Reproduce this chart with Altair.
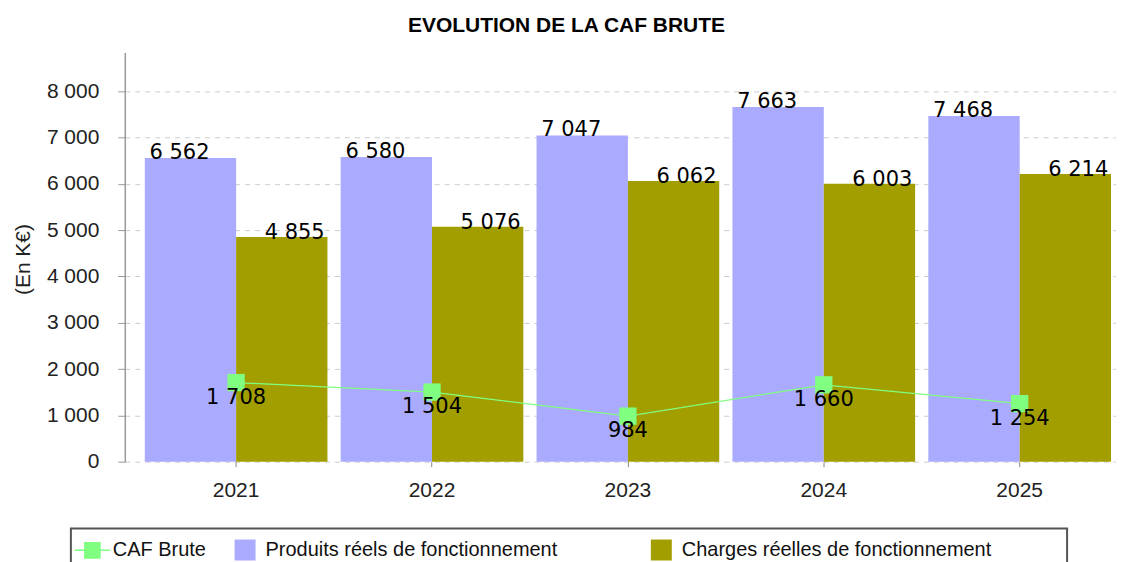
import altair as alt
import pandas as pd

# ---- data ----
years = ["2021", "2022", "2023", "2024", "2025"]
produits = [6562, 6580, 7047, 7663, 7468]
charges = [4855, 5076, 6062, 6003, 6214]
caf = [1708, 1504, 984, 1660, 1254]

series_names = ["CAF Brute", "Produits réels de fonctionnement", "Charges réelles de fonctionnement"]
series_colors = ["#80FF80", "#AAAAFF", "#A39E00"]
bar_series = series_names[1:]
y_ticks = [0, 1000, 2000, 3000, 4000, 5000, 6000, 7000, 8000]

df_p = pd.DataFrame({"year": years, "series": bar_series[0], "value": produits})
df_c = pd.DataFrame({"year": years, "series": bar_series[1], "value": charges})
df_bars = pd.concat([df_p, df_c], ignore_index=True)
df_caf = pd.DataFrame({"year": years, "series": series_names[0], "value": caf})

label_calc = "replace(format(datum.value, ','), ',', ' ')"

# blank trailing spacing so legend entries sit where the reference places them
PAD = "\u00a0" + "\u2800" * 4
legend_expr = (
    f"indexof(datum.label, 'Produits') == 0 ? datum.label + '{PAD}' : "
    f"indexof(datum.label, 'Charges') == 0 ? datum.label + '{PAD}' : datum.label"
)

legend = alt.Legend(
    orient="none", legendX=-54, legendY=477, direction="horizontal", columns=3,
    title=None, labelExpr=legend_expr,
)

caf_path = "M-1.67,-0.065H1.67V0.065H-1.67Z M-0.8,-0.8H0.8V0.8H-0.8Z"

x_enc = alt.X(
    "year:N", title=None,
    scale=alt.Scale(paddingInner=0.0675, paddingOuter=0.0638, align=0.8),
    axis=alt.Axis(labelAngle=0, domain=False, ticks=True, tickSize=5, tickColor="#888",
                  labelPadding=13, labelFont="Liberation Sans", labelFontSize=21,
                  labelColor="#222", grid=False),
)
y_enc = alt.Y(
    "value:Q", title="(En K€)",
    scale=alt.Scale(domain=[0, 8840], nice=False),
    axis=alt.Axis(values=y_ticks, labelExpr=label_calc, grid=True, gridDash=[5, 5],
                  gridColor="#cccccc", tickSize=7, tickColor="#999", domainColor="#999",
                  domainWidth=1.5, labelPadding=19, labelFont="Liberation Sans",
                  labelFontSize=21, labelColor="#222", titleFont="Liberation Sans",
                  titleFontSize=21, titleFontWeight="normal", titleColor="#222",
                  titleAngle=-90, titleX=-101, titleY=207, titleAlign="center",
                  titleBaseline="middle"),
)
color_enc = alt.Color("series:N", scale=alt.Scale(domain=series_names, range=series_colors),
                      legend=legend)
xoff = alt.XOffset("series:N", scale=alt.Scale(domain=bar_series, paddingInner=0, paddingOuter=0))

bars = alt.Chart(df_bars).mark_bar().encode(x=x_enc, xOffset=xoff, y=y_enc, color=color_enc)

line = alt.Chart(df_caf).mark_line(color="#80FF80", strokeWidth=1.2).encode(x=x_enc, y=y_enc)

markers = alt.Chart(df_caf).mark_square(size=300, color="#80FF80", opacity=1, filled=True).encode(
    x=x_enc, y=y_enc)

legend_layer = alt.Chart(df_caf).transform_filter("false").mark_point(
    filled=True, opacity=1, size=441).encode(
    x=x_enc, y=y_enc, color=color_enc,
    shape=alt.Shape("series:N", scale=alt.Scale(domain=series_names,
                                                range=[caf_path, "square", "square"]),
                    legend=legend),
)

text_p = alt.Chart(df_p).transform_calculate(label=label_calc).mark_text(
    align="left", baseline="alphabetic", dx=-41, dy=1, font="DejaVu Sans", fontSize=21,
    color="black").encode(x=x_enc, xOffset=xoff, y=y_enc, text="label:N")

text_c = alt.Chart(df_c).transform_calculate(label=label_calc).mark_text(
    align="right", baseline="alphabetic", dx=43, dy=2, font="DejaVu Sans", fontSize=21,
    color="black").encode(x=x_enc, xOffset=xoff, y=y_enc, text="label:N")

text_caf = alt.Chart(df_caf).transform_calculate(label=label_calc).mark_text(
    align="center", baseline="alphabetic", dy=21, font="DejaVu Sans", fontSize=21,
    color="black").encode(x=x_enc, y=y_enc, text="label:N")

chart = alt.layer(bars, line, markers, legend_layer, text_p, text_c, text_caf).properties(
    width=993, height=410,
    padding={"left": 117, "top": 44, "right": 0, "bottom": 100},
    autosize=alt.AutoSizeParams(type="none"),
    title=alt.Title("EVOLUTION DE LA CAF BRUTE", font="Liberation Sans", fontSize=21,
                    fontWeight="bold", color="black", offset=16, anchor="middle", dx=-54),
).configure_view(stroke=None).configure_legend(
    padding=10, strokeColor="#555", strokeWidth=2, labelFont="Liberation Sans",
    labelFontSize=20, labelColor="#111", labelOffset=9, columnPadding=27, symbolSize=441,
    labelLimit=0,
)

chart.save("out.html", embed_options={"renderer": "svg", "actions": False})
